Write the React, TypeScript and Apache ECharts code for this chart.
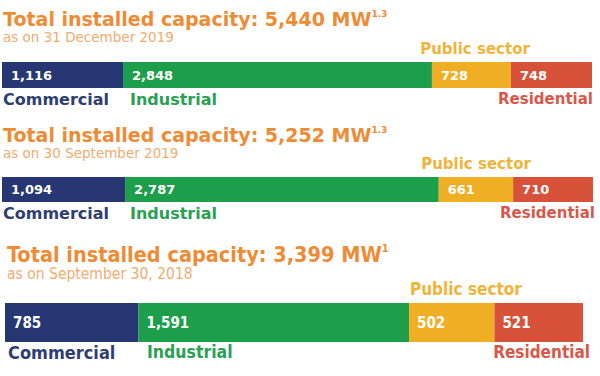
import React, { useEffect, useRef } from "react";
import * as echarts from "echarts";

const categories = ["Commercial", "Industrial", "Public sector", "Residential"];
const panelTitles = [
  "Total installed capacity: 5,440 MW",
  "Total installed capacity: 5,252 MW",
  "Total installed capacity: 3,399 MW",
];
const titleNotes = ["1.3", "1.3", "1"];
const panelDates = [
  "as on 31 December 2019",
  "as on 30 September 2019",
  "as on September 30, 2018",
];
const commercial = [1116, 1094, 785];
const industrial = [2848, 2787, 1591];
const publicSector = [728, 661, 502];
const residential = [748, 710, 521];

const seriesValues = [commercial, industrial, publicSector, residential];
const barColors = ["#263774", "#1C9E4B", "#F0AE24", "#D8523A"];
const labelColors = ["#2F3E70", "#2AA055", "#F0B43A", "#D9574A"];

const FONT = "'DejaVu Sans', sans-serif";
const FONT_C = "'DejaVu Sans Condensed', 'DejaVu Sans', sans-serif";

// layout per panel
const layout = [
  {
    grid: { left: 2, top: 62, width: 590, height: 26 },
    font: FONT,
    titleX: 3, titleY: 19, titleSize: 19, noteSize: 9,
    dateY: 36.5, dateSize: 13.5,
    pubX: 475, pubY: 49, pubSize: 15,
    catY: 99, catX: [3, 130, 0, 593], catSize: [16, 16, 0, 15],
    valSize: 13, valDist: 9,
  },
  {
    grid: { left: 2, top: 177, width: 591, height: 25 },
    font: FONT,
    titleX: 3, titleY: 135, titleSize: 19, noteSize: 9,
    dateY: 152.5, dateSize: 13.5,
    pubX: 476, pubY: 164, pubSize: 15,
    catY: 213, catX: [3, 130, 0, 595], catSize: [16, 16, 0, 15],
    valSize: 13, valDist: 9,
  },
  {
    grid: { left: 5, top: 303, width: 578, height: 39 },
    font: FONT_C,
    titleX: 7, titleY: 254, titleSize: 21.5, noteSize: 11,
    dateY: 274, dateSize: 15.5,
    pubX: 410, pubY: 289, pubSize: 17, pubAlign: "left",
    catY: 352, catX: [8, 147, 0, 590], catSize: [18, 17.5, 0, 17],
    valSize: 15, valDist: 8,
  },
];

const fmt = (v: number) => v.toLocaleString("en-US");

export default function App() {
  const ref = useRef<HTMLDivElement>(null);
  useEffect(() => {
    if (!ref.current) return;
    const chart = echarts.init(ref.current, undefined, { renderer: "svg" });

    const grids: any[] = [];
    const xAxes: any[] = [];
    const yAxes: any[] = [];
    const series: any[] = [];
    const graphics: any[] = [];

    layout.forEach((L, p) => {
      const total = seriesValues.reduce((s, arr) => s + arr[p], 0);
      grids.push({ ...L.grid, containLabel: false });
      xAxes.push({ type: "value", gridIndex: p, min: 0, max: total, show: false });
      yAxes.push({ type: "category", gridIndex: p, data: ["x"], show: false });
      seriesValues.forEach((arr, c) => {
        series.push({
          type: "bar",
          name: categories[c],
          xAxisIndex: p,
          yAxisIndex: p,
          stack: "s" + p,
          barWidth: "100%",
          data: [arr[p]],
          itemStyle: { color: barColors[c] },
          label: {
            show: true,
            position: "insideLeft",
            distance: L.valDist,
            formatter: () => fmt(arr[p]),
            color: "#fff",
            fontFamily: L.font,
            fontWeight: "bold",
            fontSize: L.valSize,
          },
          silent: true,
        });
      });

      graphics.push({
        type: "text",
        x: L.titleX,
        y: L.titleY,
        style: {
          text: `{m|${panelTitles[p]}}{s|${titleNotes[p]}}`,
          verticalAlign: "middle",
          rich: {
            m: { fontFamily: L.font, fontWeight: "bold", fontSize: L.titleSize, fill: "#EE8B35", color: "#EE8B35" },
            s: { fontFamily: L.font, fontWeight: "bold", fontSize: L.noteSize, fill: "#EE8B35", color: "#EE8B35", verticalAlign: "top" },
          },
        },
      });
      graphics.push({
        type: "text",
        x: L.titleX,
        y: L.dateY,
        style: {
          text: panelDates[p],
          fontFamily: L.font,
          fontSize: L.dateSize,
          fill: "#F2AB6E",
          verticalAlign: "middle",
        },
      });
      graphics.push({
        type: "text",
        x: L.pubX,
        y: L.pubY,
        style: {
          text: categories[2],
          fontFamily: L.font,
          fontWeight: "bold",
          fontSize: L.pubSize,
          fill: labelColors[2],
          align: (L as any).pubAlign || "center",
          verticalAlign: "middle",
        },
      });
      [0, 1, 3].forEach((c) => {
        graphics.push({
          type: "text",
          x: L.catX[c],
          y: L.catY,
          style: {
            text: categories[c],
            fontFamily: L.font,
            fontWeight: "bold",
            fontSize: L.catSize[c],
            fill: labelColors[c],
            align: c === 3 ? "right" : "left",
            verticalAlign: "middle",
          },
        });
      });
    });

    chart.setOption({
      animation: false,
      backgroundColor: "#fff",
      grid: grids,
      xAxis: xAxes,
      yAxis: yAxes,
      series,
      graphic: graphics,
    });
    return () => chart.dispose();
  }, []);
  return <div ref={ref} style={{ width: 600, height: 376, position: "absolute", left: 0, top: 0 }} />;
}
